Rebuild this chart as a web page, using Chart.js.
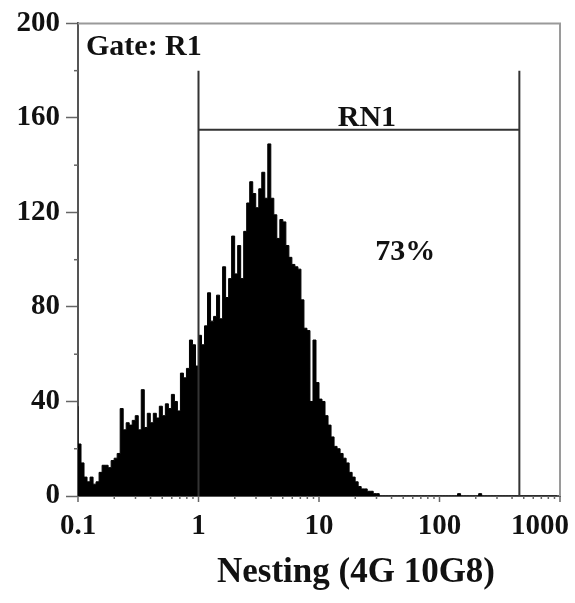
<!DOCTYPE html>
<html>
<head>
<meta charset="UTF-8">
<title>Nesting (4G 10G8) histogram</title>
<script src="https://cdn.jsdelivr.net/npm/chart.js"></script>
<style>
  html, body { margin: 0; padding: 0; background: #fff; }
  #wrap { width: 575px; height: 603px; }
</style>
</head>
<body>
<div id="wrap"><canvas id="histo" width="575" height="603"></canvas></div>
<script>
// histogram channels: 40 per decade, from 0.1 up to 1000
const xMin = 0.1;
const binsPerDecade = 40;
const counts = [
  38, 22, 14, 8, 6, 8, 5, 6, 10, 13,
  13, 12, 15, 16, 18, 37, 28, 31, 30, 32,
  34, 28, 45, 29, 35, 31, 35, 33, 38, 34,
  39, 37, 43, 40, 36, 52, 50, 54, 66, 64,
  55, 68, 64, 72, 86, 74, 76, 85, 75, 97,
  84, 92, 110, 94, 106, 92, 112, 124, 133, 128,
  122, 130, 137, 126, 149, 126, 119, 109, 117, 116,
  106, 101, 98, 97, 96, 83, 71, 70, 40, 66,
  48, 41, 40, 34, 30, 25, 21, 20, 18, 16,
  14, 10, 8, 6, 4, 3, 3, 2, 2, 1,
  1, 0, 0, 0, 0, 0, 0, 0, 0, 0,
  0, 0, 0, 0, 0, 0, 0, 0, 0, 0,
  0, 0, 0, 0, 0, 0, 0, 1, 0, 0,
  0, 0, 0, 0, 1, 0, 0, 0, 0, 0,
  0, 0, 0, 0, 0, 0, 0, 0, 0, 0,
  0, 0, 0, 0, 0, 0, 0, 0, 0, 0
];
const xTicks = [0.1, 1, 10, 100, 1000];
const xTickLabels = ['0.1', '1', '10', '100', '1000'];
const yTicks = [0, 40, 80, 120, 160, 200];

// marker RN1
const gateLo = 1;
const gateHi = 460;
const gateTop = 180;
const gateBar = 155;
const gateName = 'RN1';
const gatePct = '73%';
const gateTitle = 'Gate: R1';
const axisTitle = 'Nesting (4G 10G8)';

const binEdges = counts.map((_, i) => xMin * Math.pow(10, i / binsPerDecade));
const points = counts.map((c, i) => ({ x: binEdges[i], y: c }));

const serif = "'Liberation Serif', 'Times New Roman', serif";

const facsPlugin = {
  id: 'facs',
  afterDraw(chart) {
    const { ctx, chartArea: a, scales: { x, y } } = chart;
    ctx.save();

    // frame top / right
    ctx.strokeStyle = '#9a9a9a';
    ctx.lineWidth = 2;
    ctx.beginPath();
    ctx.moveTo(a.left, a.top);
    ctx.lineTo(a.right, a.top);
    ctx.lineTo(a.right, a.bottom);
    ctx.stroke();

    // y minor ticks
    ctx.strokeStyle = '#666';
    ctx.lineWidth = 1.5;
    for (let v = 20; v < 200; v += 40) {
      const py = y.getPixelForValue(v);
      ctx.beginPath();
      ctx.moveTo(a.left - 4, py);
      ctx.lineTo(a.left, py);
      ctx.stroke();
    }
    // x ticks (decades + minor)
    for (let d = -1; d <= 3; d++) {
      for (let m = 1; m <= 9; m++) {
        const v = m * Math.pow(10, d);
        if (v > 1000) break;
        const px = x.getPixelForValue(v);
        ctx.beginPath();
        ctx.moveTo(px, a.bottom);
        ctx.lineTo(px, a.bottom + (m === 1 ? 6 : 3));
        ctx.stroke();
      }
    }

    // x tick labels
    ctx.fillStyle = '#111';
    ctx.font = 'bold 29px ' + serif;
    ctx.textBaseline = 'middle';
    ctx.textAlign = 'center';
    xTicks.forEach((v, i) => {
      let px = x.getPixelForValue(v);
      const w = ctx.measureText(xTickLabels[i]).width;
      if (px + w / 2 > chart.width - 6) px = chart.width - 6 - w / 2;
      ctx.fillText(xTickLabels[i], px, a.bottom + 31);
    });

    // axis title
    ctx.font = 'bold 35px ' + serif;
    ctx.textBaseline = 'alphabetic';
    ctx.fillText(axisTitle, (a.left + a.right) / 2 + 37, a.bottom + 86);

    // gate marker
    ctx.strokeStyle = '#333';
    ctx.lineWidth = 2;
    const gx1 = x.getPixelForValue(gateLo);
    const gx2 = x.getPixelForValue(gateHi);
    const gyTop = y.getPixelForValue(gateTop);
    const gyBar = y.getPixelForValue(gateBar);
    ctx.beginPath();
    ctx.moveTo(gx1, a.bottom);
    ctx.lineTo(gx1, gyTop);
    ctx.moveTo(gx2, a.bottom);
    ctx.lineTo(gx2, gyTop);
    ctx.moveTo(gx1, gyBar);
    ctx.lineTo(gx2, gyBar);
    ctx.stroke();

    ctx.font = 'bold 30px ' + serif;
    ctx.textAlign = 'center';
    ctx.fillText(gateName, x.getPixelForValue(25), y.getPixelForValue(156.5));
    ctx.fillText(gatePct, x.getPixelForValue(52), y.getPixelForValue(100));
    ctx.textAlign = 'left';
    ctx.fillText(gateTitle, x.getPixelForValue(0.1165), y.getPixelForValue(186.5));

    ctx.restore();
  }
};

new Chart(document.getElementById('histo'), {
  type: 'line',
  data: {
    datasets: [{
      data: points,
      stepped: 'after',
      fill: 'origin',
      backgroundColor: '#000',
      borderColor: '#000',
      borderWidth: 1,
      pointRadius: 0
    }]
  },
  options: {
    responsive: false,
    animation: false,
    layout: { padding: { left: 0, right: 15, top: 21, bottom: 0 } },
    plugins: { legend: { display: false }, tooltip: { enabled: false } },
    scales: {
      x: {
        type: 'logarithmic',
        min: 0.1,
        max: 1000,
        grid: { display: false },
        ticks: { display: false },
        border: { color: '#555', width: 2 },
        afterFit(scale) { scale.height = 107; }
      },
      y: {
        min: 0,
        max: 200,
        afterBuildTicks(scale) { scale.ticks = yTicks.map(v => ({ value: v })); },
        ticks: {
          color: '#111',
          padding: 6,
          font: { family: serif, size: 29, weight: 'bold' }
        },
        grid: { drawOnChartArea: false, tickLength: 12, color: '#666', tickWidth: 1.5 },
        border: { color: '#555', width: 2 },
        afterFit(scale) { scale.width = 78; }
      }
    }
  },
  plugins: [facsPlugin]
});
</script>
</body>
</html>
